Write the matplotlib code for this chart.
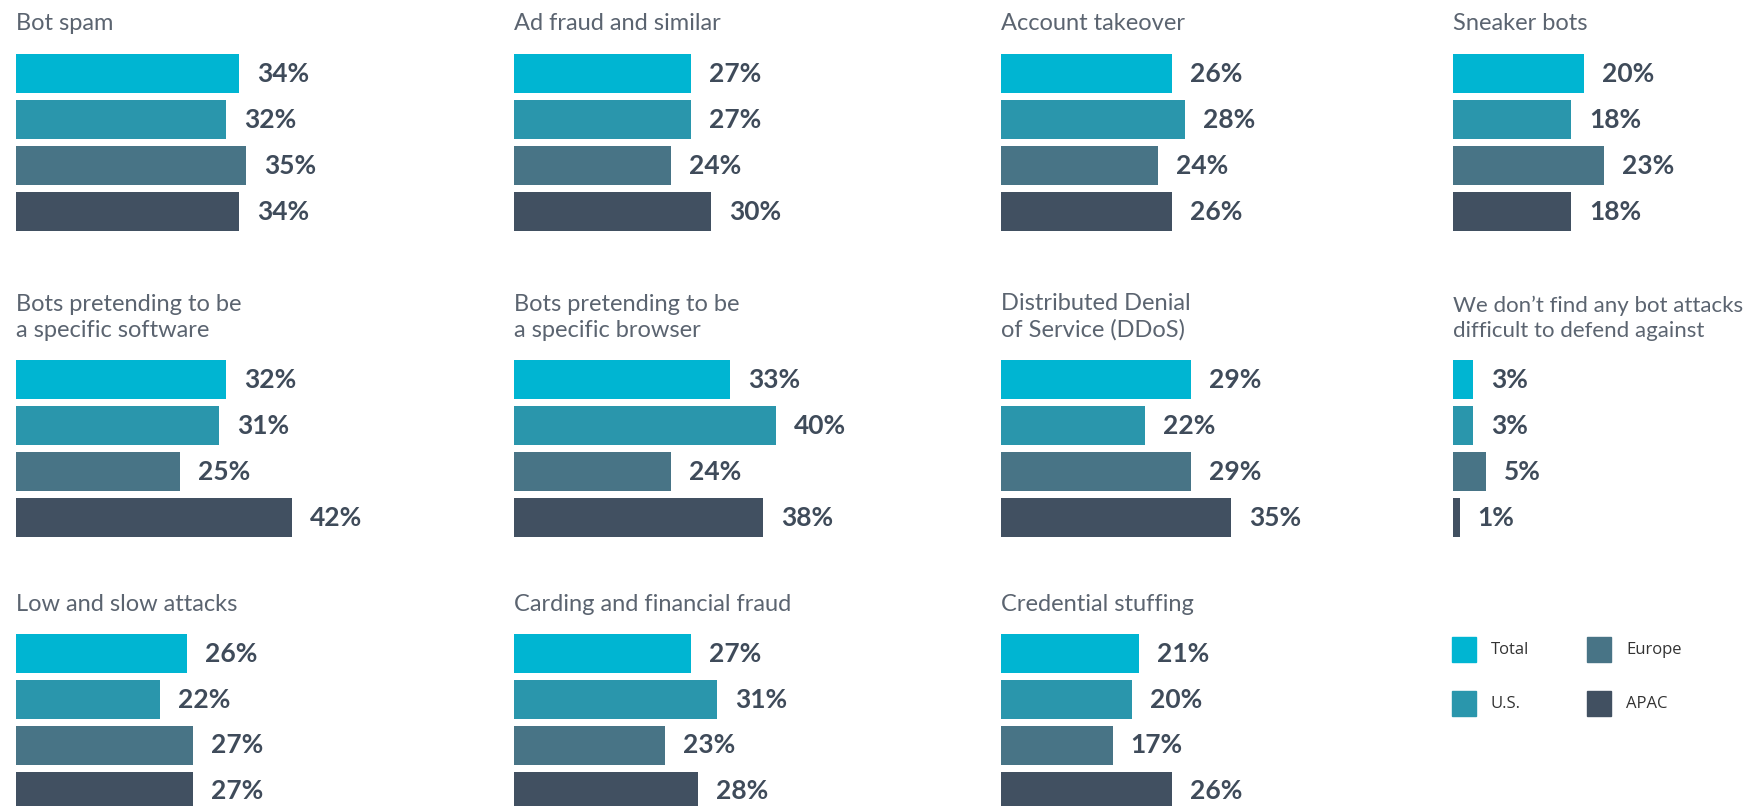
import matplotlib
matplotlib.use("Agg")
import matplotlib.pyplot as plt
from matplotlib.patches import Rectangle

W, H = 1754, 806

# survey data: share of respondents per region
titles = [
    "Bot spam", "Ad fraud and similar", "Account takeover", "Sneaker bots",
    "Bots pretending to be\na specific software", "Bots pretending to be\na specific browser",
    "Distributed Denial\nof Service (DDoS)", "We don\u2019t find any bot attacks\ndifficult to defend against",
    "Low and slow attacks", "Carding and financial fraud", "Credential stuffing",
]
total = [34, 27, 26, 20, 32, 33, 29, 3, 26, 27, 21]
us = [32, 27, 28, 18, 31, 40, 22, 3, 22, 31, 20]
europe = [35, 24, 24, 23, 25, 24, 29, 5, 27, 23, 17]
apac = [34, 30, 26, 18, 42, 38, 35, 1, 27, 28, 26]
regions = ["Total", "U.S.", "Europe", "APAC"]

colors = ["#00b5d2", "#2a96ac", "#487486", "#415061"]
text_col = "#3f4b5a"
title_col = "#5b6470"

col_x = [16, 514, 1001, 1453]
row_bar_top = [54, 360, 634]
row_title_base = [30, 337, 611]  # baseline of the last title line
px_per_pct = 6.56
pitch = 46
bar_h = 39


def fx(px):
    return px / W


def fy(py):
    return 1 - py / H


fig = plt.figure(figsize=(W / 100, H / 100), dpi=100)

for k, title in enumerate(titles):
    r, c = divmod(k, 4)
    x0 = col_x[c]
    top = row_bar_top[r] - (pitch - bar_h) / 2
    width_px = 440
    ax = fig.add_axes([fx(x0), fy(top + 4 * pitch), width_px / W, 4 * pitch / H])
    vals = [total[k], us[k], europe[k], apac[k]]
    ax.barh(range(4), vals, height=bar_h / pitch, color=colors, left=0)
    ax.set_xlim(0, width_px / px_per_pct)
    ax.set_ylim(3.5, -0.5)
    ax.axis("off")
    for i, v in enumerate(vals):
        ax.text(v + 18 / px_per_pct, i, f"{v}%", va="center", ha="left",
                fontsize=19, fontweight="bold", family="Lato", color=text_col,
                clip_on=False)

    # the last column is narrow, the long title has to fit before the edge
    fs = 16 if c == 3 and "\n" in title else 17
    fig.text(fx(x0), fy(row_title_base[r]), title, va="baseline", ha="left",
             fontsize=fs, family="Lato", color=title_col, linespacing=1.32)

# legend
leg_x = [1452, 1587]
leg_y = [637, 691]
for j, name in enumerate(regions):
    cx = leg_x[j // 2]
    cy = leg_y[j % 2]
    fig.add_artist(Rectangle((fx(cx), fy(cy + 25)), 24 / W, 25 / H,
                             transform=fig.transFigure, color=colors[j]))
    fig.text(fx(cx + 39), fy(cy + 12.5), name, va="center", ha="left",
             fontsize=12, family="Open Sans", color="#333333")

fig.savefig("out.png", dpi=100)
